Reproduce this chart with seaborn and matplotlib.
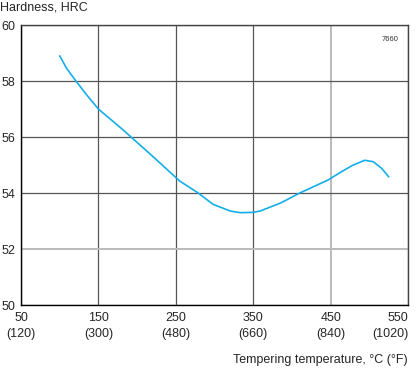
"""Hardness vs tempering temperature curve."""

import matplotlib

matplotlib.use("Agg")
import matplotlib.pyplot as plt
import pandas as pd
import seaborn as sns

# values
temp_c = [100, 109, 121, 135, 150, 180, 217, 255, 279, 298, 320, 333, 350,
          359, 385, 410, 447, 462, 479, 494, 505, 516, 525]
hardness = [58.9, 58.45, 58.0, 57.5, 57.0, 56.3, 55.39, 54.43, 54.0, 53.6, 53.36, 53.30, 53.31,
            53.36, 53.64, 54.0, 54.47, 54.73, 55.0, 55.17, 55.12, 54.88, 54.58]

x_ticks = [50, 150, 250, 350, 450, 550]
x_tick_labels = ["50\n(120)", "150\n(300)", "250\n(480)", "350\n(660)", "450\n(840)", "550\n(1020)"]
y_ticks = [50, 52, 54, 56, 58, 60]

CURVE = "#14AEE8"
DARK = "#555555"
LIGHT = "#BBBBBB"

sns.set_style("white")
plt.rcParams["font.family"] = ["Liberation Sans", "DejaVu Sans"]

data = pd.DataFrame({"temp": temp_c, "hrc": hardness})

fig = plt.figure(figsize=(4.18, 3.68), dpi=100)
ax = fig.add_axes([0.0502, 0.171, 0.926, 0.761])

sns.lineplot(data=data, x="temp", y="hrc", color=CURVE, linewidth=1.2, ax=ax, zorder=3)

ax.set_xlim(50, 550)
ax.set_ylim(50, 60)
ax.set_xticks(x_ticks)
ax.set_xticklabels(x_tick_labels, fontsize=9, linespacing=1.4)
ax.set_yticks(y_ticks)
ax.set_yticklabels([str(v) for v in y_ticks], fontsize=9)
ax.set_xlabel("")
ax.set_ylabel("")

ax.tick_params(axis="y", length=3, width=0.8, color="black", pad=1)
ax.tick_params(axis="x", length=0, pad=5)

# last tick label sits flush with the right edge of the frame
last = ax.get_xticklabels()[-1]
last.set_horizontalalignment("right")
last.set_multialignment("right")

ax.grid(True, color=DARK, linewidth=0.9)
for line, val in zip(ax.xaxis.get_gridlines(), x_ticks):
    if val == 450:
        line.set_color(LIGHT)
        line.set_linewidth(1.4)
for line, val in zip(ax.yaxis.get_gridlines(), y_ticks):
    if val == 52:
        line.set_color(LIGHT)
        line.set_linewidth(1.4)

for side in ["left", "bottom"]:
    ax.spines[side].set_color("black")
    ax.spines[side].set_linewidth(1.0)
for side in ["top", "right"]:
    ax.spines[side].set_visible(True)
    ax.spines[side].set_color("#444444")
    ax.spines[side].set_linewidth(1.0)

fig.text(0.0, 1 - 8 / 368, "Hardness, HRC", fontsize=9, ha="left", va="center")
fig.text(408 / 418, 1 - 360 / 368, "Tempering temperature, °C (°F)", fontsize=9,
         ha="right", va="center")
ax.text(0.975, 0.96, "7660", transform=ax.transAxes, fontsize=5.5, ha="right", va="top",
        color="#333333")

fig.savefig("out.png", dpi=100)
plt.close(fig)
